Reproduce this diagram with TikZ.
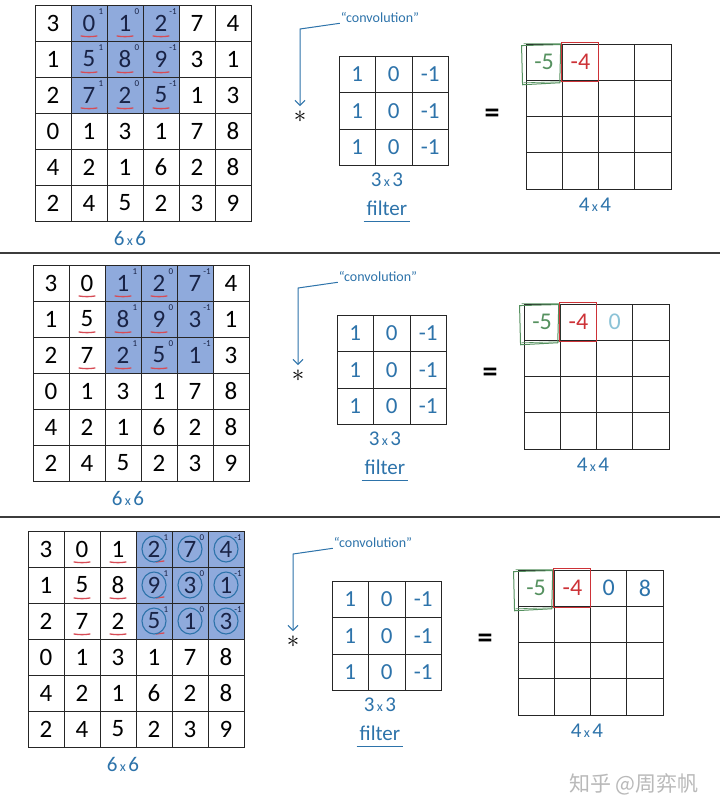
\documentclass[tikz,border=0pt]{standalone}
\usepackage{fontspec}
\setmainfont{Carlito}
\newfontfamily\cjkfont{Noto Sans CJK SC}
\usetikzlibrary{arrows.meta,calc}

\definecolor{hl}{RGB}{143,170,220}
\definecolor{hand}{RGB}{45,115,170}
\definecolor{ulred}{RGB}{215,75,85}
\definecolor{navy}{RGB}{25,35,70}
\definecolor{gbox}{RGB}{85,145,95}
\definecolor{rbox}{RGB}{205,50,55}
\definecolor{lightblue}{RGB}{140,195,215}
\definecolor{sepcol}{RGB}{60,60,60}
\definecolor{wmcol}{RGB}{185,185,185}

\tikzset{
  bigcell/.style={draw=black!85, line width=0.9pt, minimum size=36pt, inner sep=0pt, font=\fontsize{25}{25}\selectfont},
  hlcell/.style={bigcell, fill=hl, text=navy},
  filtcell/.style={draw=black!85, line width=0.9pt, minimum size=36.5pt, inner sep=0pt, text=hand, font=\fontsize{23}{23}\selectfont},
  outcell/.style={draw=black!85, line width=0.9pt, minimum size=36.3pt, inner sep=0pt},
  outval/.style={inner sep=0pt, font=\fontsize{24}{24}\selectfont},
  weight/.style={font=\fontsize{9}{9}\selectfont, text=navy, inner sep=0pt},
  handlabel/.style={text=hand, font=\fontsize{21}{21}\selectfont, inner sep=1pt},
  convlabel/.style={text=hand, font=\fontsize{14}{14}\selectfont, inner sep=1pt},
  starsym/.style={inner sep=0pt, font=\fontsize{28}{28}\selectfont},
  eqsym/.style={inner sep=0pt, font=\fontsize{30}{30}\selectfont\bfseries},
  convarrow/.style={draw=hand, line width=1pt, -{Straight Barb[length=5pt,width=10pt]}, shorten >=5pt},
  ul/.style={draw=ulred, line width=1.3pt, line cap=round},
  ring/.style={draw=hand, line width=1.1pt},
  greenbox/.style={draw=gbox, line width=1pt},
  redbox/.style={draw=rbox, line width=1pt},
  sepline/.style={draw=sepcol, line width=1.5pt},
  handline/.style={draw=hand, line width=1.1pt},
}

% #1,#2 big grid left/top; #3,#4 filter left/top; #5,#6 output left/top;
% #7 first highlighted column; #8 name prefix; #9 last underlined column
\newcommand\convpanel[9]{%
  \foreach \row [count=\r from 0] in {{3,0,1,2,7,4},{1,5,8,9,3,1},{2,7,2,5,1,3},{0,1,3,1,7,8},{4,2,1,6,2,8},{2,4,5,2,3,9}}{%
    \foreach \v [count=\c from 0] in \row {%
      \pgfmathtruncatemacro\ishl{and(\r<3,and(\c>#7-1,\c<#7+3))}%
      \ifnum\ishl=1
        \node[hlcell] (#8b\r\c) at (#1+18+36*\c, #2+18+36*\r) {\v};
        \pgfmathtruncatemacro\w{1-(\c-#7)}%
        \node[weight] (#8w\r\c) at ([shift={(12,-11)}]#8b\r\c.center) {\w};
      \else
        \node[bigcell] (#8b\r\c) at (#1+18+36*\c, #2+18+36*\r) {\v};
      \fi
    }%
  }%
  \foreach \r in {0,1,2}{%
    \foreach \c in {1,...,#9}{%
      \draw[ul] ([shift={(-8,13)}]#8b\r\c.center) to[bend right=8] ([shift={(8,13)}]#8b\r\c.center);
    }%
  }%
  \node[handlabel] (#8bl) at (#1+95, #2+233) {6{\fontsize{14}{14}\selectfont\,x\,}6};
  % filter
  \foreach \r in {0,1,2}{%
    \foreach \v [count=\c from 0] in {1,0,-1}{%
      \node[filtcell] (#8f\r\c) at (#3+18.25+36.5*\c, #4+18.25+36.5*\r) {\v};
    }%
  }%
  \node[handlabel] (#8fl) at (#3+48, #4+124) {3{\fontsize{14}{14}\selectfont\,x\,}3};
  \node[handlabel] (#8ft) at (#3+48, #4+152) {filter};
  \draw[handline] ([shift={(-2,5)}]#8ft.south west) -- ([shift={(2,5)}]#8ft.south east);
  \node[convlabel] (#8conv) at (#3+41, #4-39) {“convolution”};
  \node[starsym] (#8star) at (#3-39, #4+61) {$\ast$};
  \coordinate (#8bend) at ($(#8star.center)+(0,-88)$);
  \draw[convarrow] (#8conv.south west) -- (#8bend) -- (#8star.north);
  \node[eqsym] (#8eq) at (#3+153, #4+60) {=};
  % output
  \foreach \r in {0,...,3}{%
    \foreach \c in {0,...,3}{%
      \node[outcell] (#8o\r\c) at (#5+18.15+36.3*\c, #6+18.15+36.3*\r) {};
    }%
  }%
  \node[handlabel] (#8ol) at (#5+69, #6+161) {4{\fontsize{14}{14}\selectfont\,x\,}4};
  \draw[greenbox] ([shift={(-4,2)}]#8o00.north west) -- ([shift={(-2,1)}]#8o00.north east)
     -- ([shift={(-3,2)}]#8o00.south east) -- ([shift={(-3,4)}]#8o00.south west) -- cycle;
  \draw[greenbox, line width=0.6pt] ([shift={(-2,0)}]#8o00.north west) -- ([shift={(-1,0)}]#8o00.north east)
     -- ([shift={(-1,1)}]#8o00.south east) -- ([shift={(-2,2)}]#8o00.south west);
  \draw[redbox] ([shift={(0,-1)}]#8o01.north west) rectangle ([shift={(-1,1)}]#8o01.south east);
  \node[outval, text=gbox] (#8v00) at (#8o00.center) {-5};
  \node[outval, text=rbox] (#8v01) at (#8o01.center) {-4};
}

\begin{document}
\begin{tikzpicture}[x=1pt, y=-1pt]
  \useasboundingbox (0,0) rectangle (720,812);
  \fill[white] (0,0) rectangle (720,812);

  \convpanel{35}{5}{339}{56}{526}{44}{1}{A}{3}
  \draw[sepline] (0,253) -- (720,253);
  \convpanel{33}{265}{337}{315}{524}{304}{2}{B}{3}
  \node[outval, text=lightblue] (Bv02) at (Bo02.center) {0};
  \draw[sepline] (0,517) -- (720,517);
  \convpanel{28}{531}{332}{581}{518}{570}{3}{C}{2}
  \foreach \r in {0,1,2}{%
    \draw[ul] ([shift={(2,13)}]Cb\r3.center) -- ([shift={(10,12)}]Cb\r3.center);
    \foreach \c in {3,4,5}{%
      \draw[ring] (Cb\r\c.center) ellipse [x radius=12pt, y radius=13pt];
    }%
  }%
  \node[outval, text=hand] (Cv02) at (Co02.center) {0};
  \node[outval, text=hand] (Cv03) at (Co03.center) {8};

  \node[font=\cjkfont\fontsize{21}{21}\selectfont, text=wmcol] (wm) at (634,784) {知乎 @周弈帆};
\end{tikzpicture}
\end{document}
